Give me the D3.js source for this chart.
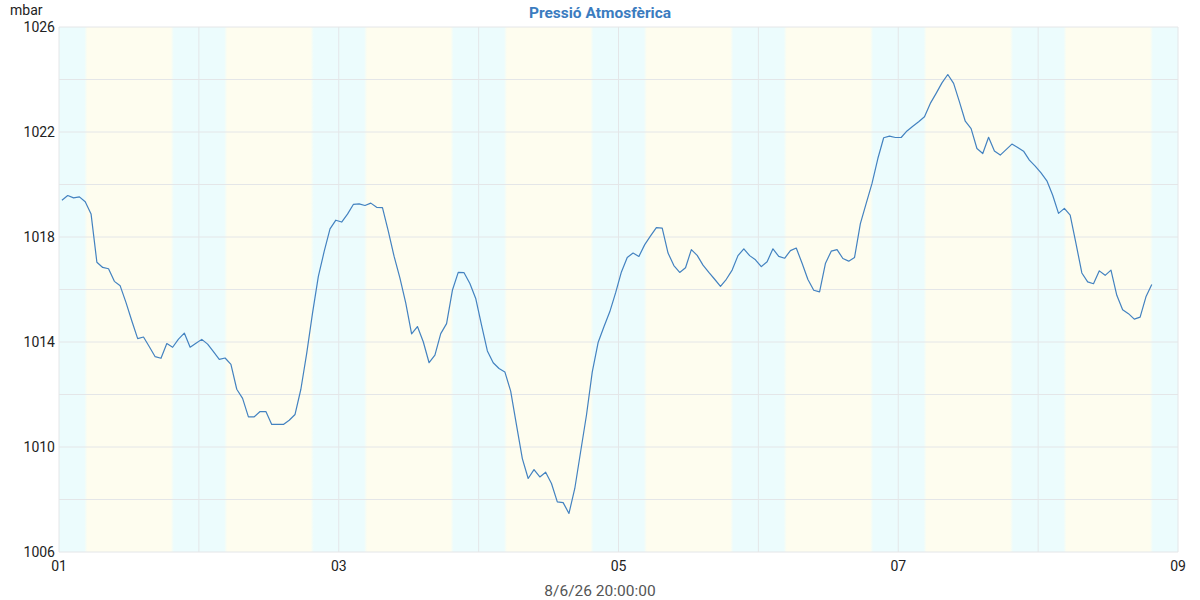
<!DOCTYPE html>
<html>
<head>
<meta charset="utf-8">
<script src="https://cdn.jsdelivr.net/npm/d3@7"></script>
<style>
  body { margin: 0; background: #fff; font-family: Roboto, "Noto Sans", sans-serif; }
</style>
</head>
<body>
<div id="chart"></div>
<script>
// hourly readings, first one at 01 00:30 UTC
var startTime = Date.UTC(2026, 5, 1, 0, 30);
var pressure = [
  1019.40, 1019.58, 1019.49, 1019.53, 1019.34, 1018.88, 1017.04, 1016.84, 1016.79, 1016.31,
  1016.14, 1015.50, 1014.80, 1014.13, 1014.19, 1013.82, 1013.44, 1013.38, 1013.94, 1013.80,
  1014.11, 1014.34, 1013.80, 1013.95, 1014.10, 1013.92, 1013.63, 1013.34, 1013.39, 1013.15,
  1012.20, 1011.85, 1011.15, 1011.15, 1011.35, 1011.35, 1010.86, 1010.86, 1010.86, 1011.02,
  1011.24, 1012.20, 1013.57, 1015.10, 1016.50, 1017.45, 1018.31, 1018.64, 1018.57, 1018.87,
  1019.24, 1019.26, 1019.20, 1019.29, 1019.13, 1019.12, 1018.22, 1017.26, 1016.43, 1015.48,
  1014.31, 1014.59, 1014.01, 1013.21, 1013.50, 1014.32, 1014.70, 1015.97, 1016.65, 1016.64,
  1016.23, 1015.66, 1014.64, 1013.66, 1013.21, 1012.99, 1012.86, 1012.13, 1010.83, 1009.56,
  1008.80, 1009.14, 1008.86, 1009.04, 1008.61, 1007.91, 1007.88, 1007.47, 1008.42, 1009.82,
  1011.21, 1012.86, 1013.98, 1014.58, 1015.15, 1015.87, 1016.67, 1017.22, 1017.39, 1017.26,
  1017.71, 1018.04, 1018.36, 1018.34, 1017.39, 1016.91, 1016.65, 1016.83, 1017.52, 1017.30,
  1016.93, 1016.65, 1016.39, 1016.12, 1016.39, 1016.74, 1017.29, 1017.55, 1017.29, 1017.13,
  1016.87, 1017.06, 1017.55, 1017.26, 1017.19, 1017.48, 1017.58, 1017.00, 1016.38, 1015.97,
  1015.91, 1016.99, 1017.46, 1017.52, 1017.18, 1017.08, 1017.22, 1018.51, 1019.28, 1020.04,
  1020.99, 1021.78, 1021.84, 1021.79, 1021.79, 1022.04, 1022.22, 1022.39, 1022.58, 1023.09,
  1023.47, 1023.87, 1024.19, 1023.85, 1023.15, 1022.41, 1022.13, 1021.37, 1021.18, 1021.80,
  1021.28, 1021.12, 1021.33, 1021.54, 1021.41, 1021.27, 1020.93, 1020.70, 1020.44, 1020.14,
  1019.59, 1018.90, 1019.09, 1018.83, 1017.75, 1016.63, 1016.29, 1016.22, 1016.71, 1016.54,
  1016.74, 1015.78, 1015.23, 1015.08, 1014.87, 1014.95, 1015.72, 1016.19
];
var yGrid = [1006, 1008, 1010, 1012, 1014, 1016, 1018, 1020, 1022, 1024, 1026];
var yLabels = [1006, 1010, 1014, 1018, 1022, 1026];
var xLabelDays = [1, 3, 5, 7, 9];
var sunriseHour = 4.6;
var sunsetHour = 19.45;
var title = "Pressió Atmosfèrica";
var footer = "8/6/26 20:00:00";

function init() {
  var w = 1200, h = 600;
  var left = 59, right = 1178, top = 27, bottom = 552;

  var t0 = new Date(Date.UTC(2026, 5, 1));
  var t1 = new Date(Date.UTC(2026, 5, 9));
  var x = d3.scaleUtc().domain([t0, t1]).range([left, right]);
  var y = d3.scaleLinear().domain([1006, 1026]).range([bottom, top]);

  var data = pressure.map(function(v, i) {
    return { t: new Date(startTime + i * 3600000), v: v };
  });

  var svg = d3.select("#chart").append("svg")
    .attr("width", w).attr("height", h);

  // day / night background
  var span = t1 - t0;
  var grad = svg.append("defs").append("linearGradient")
    .attr("id", "daynight")
    .attr("gradientUnits", "userSpaceOnUse")
    .attr("x1", left).attr("x2", right).attr("y1", 0).attr("y2", 0);
  var night = "#ecfcfd", day = "#fefdef";
  var stops = [];
  for (var d = 0; d < 8; d++) {
    var base = d * 24;
    stops.push([base + sunriseHour - 0.25, night]);
    stops.push([base + sunriseHour + 0.25, day]);
    stops.push([base + sunsetHour - 0.25, day]);
    stops.push([base + sunsetHour + 0.25, night]);
  }
  grad.selectAll("stop").data(stops).enter().append("stop")
    .attr("offset", function(s) { return (s[0] * 3600000 / span); })
    .attr("stop-color", function(s) { return s[1]; });

  svg.append("rect")
    .attr("x", left).attr("y", top)
    .attr("width", right - left).attr("height", bottom - top)
    .attr("fill", "url(#daynight)");

  // grid
  svg.selectAll("line.hgrid").data(yGrid).enter().append("line")
    .attr("class", "hgrid")
    .attr("x1", left).attr("x2", right)
    .attr("y1", function(d) { return y(d); })
    .attr("y2", function(d) { return y(d); })
    .attr("stroke", "#e4e6e8").attr("stroke-width", 1);

  var days = d3.utcDay.range(t0, d3.utcDay.offset(t1, 1));
  svg.selectAll("line.vgrid").data(days).enter().append("line")
    .attr("class", "vgrid")
    .attr("x1", function(d) { return x(d); })
    .attr("x2", function(d) { return x(d); })
    .attr("y1", top).attr("y2", bottom)
    .attr("stroke", "#e4e6e8").attr("stroke-width", 1);

  // pressure line
  var line = d3.line()
    .x(function(d) { return x(d.t); })
    .y(function(d) { return y(d.v); });
  svg.append("path")
    .datum(data)
    .attr("d", line)
    .attr("fill", "none")
    .attr("stroke", "#4382c0")
    .attr("stroke-width", 1.2)
    .attr("stroke-linejoin", "round");

  // y labels
  svg.selectAll("text.ylab").data(yLabels).enter().append("text")
    .attr("class", "ylab")
    .attr("x", 55)
    .attr("y", function(d) { return y(d); })
    .attr("dy", "0.35em")
    .attr("text-anchor", "end")
    .attr("font-size", 14)
    .attr("fill", "#222")
    .text(function(d) { return d; });

  svg.append("text")
    .attr("x", 10).attr("y", 15)
    .attr("font-size", 14).attr("fill", "#222")
    .text("mbar");

  // x labels
  svg.selectAll("text.xlab").data(xLabelDays).enter().append("text")
    .attr("class", "xlab")
    .attr("x", function(d) { return x(new Date(Date.UTC(2026, 5, d))); })
    .attr("y", 571)
    .attr("text-anchor", "middle")
    .attr("font-size", 14)
    .attr("fill", "#222")
    .text(function(d) { return d3.utcFormat("%d")(new Date(Date.UTC(2026, 5, d))); });

  svg.append("text")
    .attr("x", 600).attr("y", 18)
    .attr("text-anchor", "middle")
    .attr("font-size", 15.5).attr("font-weight", "bold")
    .attr("fill", "#3b7cbf")
    .text(title);

  svg.append("text")
    .attr("x", 600).attr("y", 596)
    .attr("text-anchor", "middle")
    .attr("font-size", 15.5).attr("fill", "#555")
    .text(footer);
}

window.onload = init;
</script>
</body>
</html>
